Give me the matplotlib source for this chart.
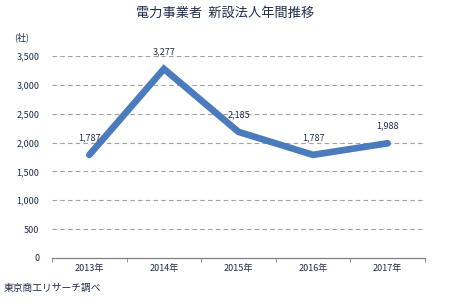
import matplotlib
matplotlib.use("Agg")
import matplotlib.pyplot as plt

plt.rcParams['font.family'] = ['Noto Sans CJK JP', 'DejaVu Sans']

# data
years = ["2013年", "2014年", "2015年", "2016年", "2017年"]
counts = [1787, 3277, 2185, 1787, 1988]
yticks = [0, 500, 1000, 1500, 2000, 2500, 3000, 3500]

text_color = "#1f2d4a"
line_color = "#4a7bbd"

fig = plt.figure(figsize=(4.5, 3.01), dpi=100)
ax = fig.add_axes([0.1156, 0.1429, 0.8288, 0.671])

x = list(range(len(years)))
ax.plot(x, counts, color=line_color, lw=4.8, solid_capstyle="round",
        solid_joinstyle="miter", zorder=3)

for xi, v in zip(x, counts):
    ax.annotate(f"{v:,}", (xi, v), xytext=(0, 9), textcoords="offset points",
                ha="center", va="bottom", fontsize=6.5, color=text_color,
                annotation_clip=False, zorder=4)

ax.set_xlim(-0.5, len(years) - 0.5)
ax.set_ylim(0, 3500)
ax.set_yticks(yticks)
ax.set_yticklabels([f"{t:,}" for t in yticks], fontsize=6.5, color=text_color)
for t in yticks[1:]:
    ax.axhline(t, color="#a0a0a0", lw=0.8, ls=(0, (4, 3)), zorder=1)

ax.set_xticks(x)
ax.set_xticklabels(years, fontsize=6.5, color=text_color)
ax.set_xticks([i - 0.5 for i in range(len(years) + 1)], minor=True)
ax.tick_params(axis="x", which="major", length=0, pad=4)
ax.tick_params(axis="x", which="minor", length=3, color="#808080", direction="out")
ax.tick_params(axis="y", length=0, pad=9)

for s in ["top", "right", "left"]:
    ax.spines[s].set_visible(False)
ax.spines["bottom"].set_color("#808080")
ax.spines["bottom"].set_linewidth(0.9)

fig.text(0.5, 0.955, "電力事業者  新設法人年間推移", ha="center", va="center",
         fontsize=9.5, color=text_color)
fig.text(0.032, 0.877, "(社)", ha="left", va="center", fontsize=6.5, color=text_color)
fig.text(0.008, 0.045, "東京商工リサーチ調べ", ha="left", va="center",
         fontsize=7, color=text_color)

fig.savefig("out.png", dpi=100, facecolor="white")
